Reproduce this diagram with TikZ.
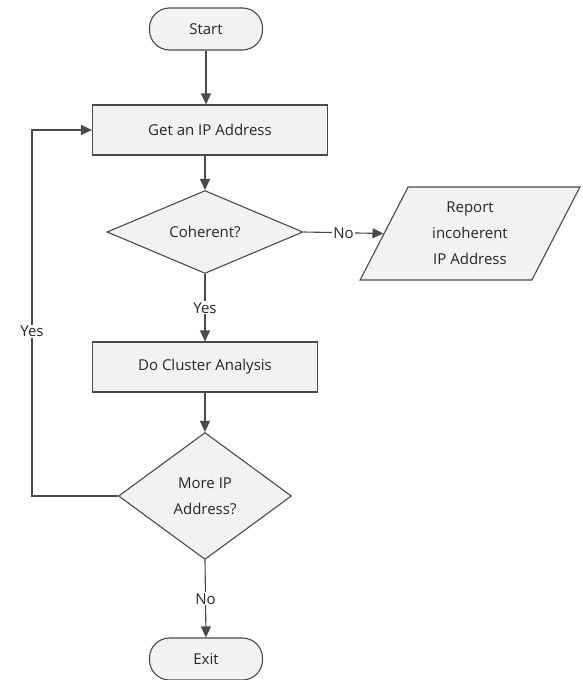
\documentclass[tikz,border=0pt]{standalone}
\usepackage{fontspec}
\setmainfont{Open Sans}
\usetikzlibrary{shapes.geometric,arrows.meta}
\definecolor{edge}{HTML}{4A4A4A}
\definecolor{boxfill}{HTML}{F2F2F2}
\definecolor{txt}{HTML}{262626}
\tikzset{
  base/.style={draw=edge, fill=boxfill, line width=1.1pt, text=txt, font=\fontsize{15}{26}\selectfont, inner sep=0pt, align=center},
  term/.style={base, rectangle, rounded corners=20pt, minimum width=113pt, minimum height=42pt},
  proc/.style={base, rectangle, minimum height=50pt},
  dec/.style={base, diamond},
  io/.style={base, trapezium, trapezium left angle=65, trapezium right angle=115, trapezium stretches=true},
  conn/.style={draw=edge, line width=1.1pt, -{Triangle[length=11pt,width=10pt]}},
  lbl/.style={fill=white, text=txt, font=\fontsize{15}{18}\selectfont, inner sep=1pt}
}
\begin{document}
\begin{tikzpicture}[x=1pt,y=-1pt]
\useasboundingbox (0,0) rectangle (582,680);
\node[term] (start) at (206,29) {Start};
\node[proc, minimum width=235pt] (get) at (210,130) {Get an IP Address};
\node[dec, minimum width=196pt, minimum height=73pt] (coh) at (205,232) {Coherent?};
\node[io, minimum width=220pt, minimum height=93pt] (rep) at (470,233.5) {Report\\incoherent\\IP Address};
\node[proc, minimum width=225pt] (clu) at (205,367) {Do Cluster Analysis};
\node[dec, minimum width=173pt, minimum height=127pt] (more) at (205,496) {More IP\\Address?};
\node[term] (exit) at (206,659) {Exit};
\coordinate (lp) at (32,496);

\draw[conn] (start.south) -- (start.south |- get.north);
\draw[conn] (coh.north |- get.south) -- (coh.north);
\draw[conn] (coh.east) -- node[lbl] {No} (rep.west);
\draw[conn] (coh.south) -- node[lbl, pos=0.5] {Yes} (clu.north);
\draw[conn] (clu) -- (more);
\draw[conn] (more.south) -- node[lbl] {No} (exit.north);
\draw[conn] (more.west) -- (lp) |- node[lbl, pos=0.225] {Yes} (get.west);
\end{tikzpicture}
\end{document}
